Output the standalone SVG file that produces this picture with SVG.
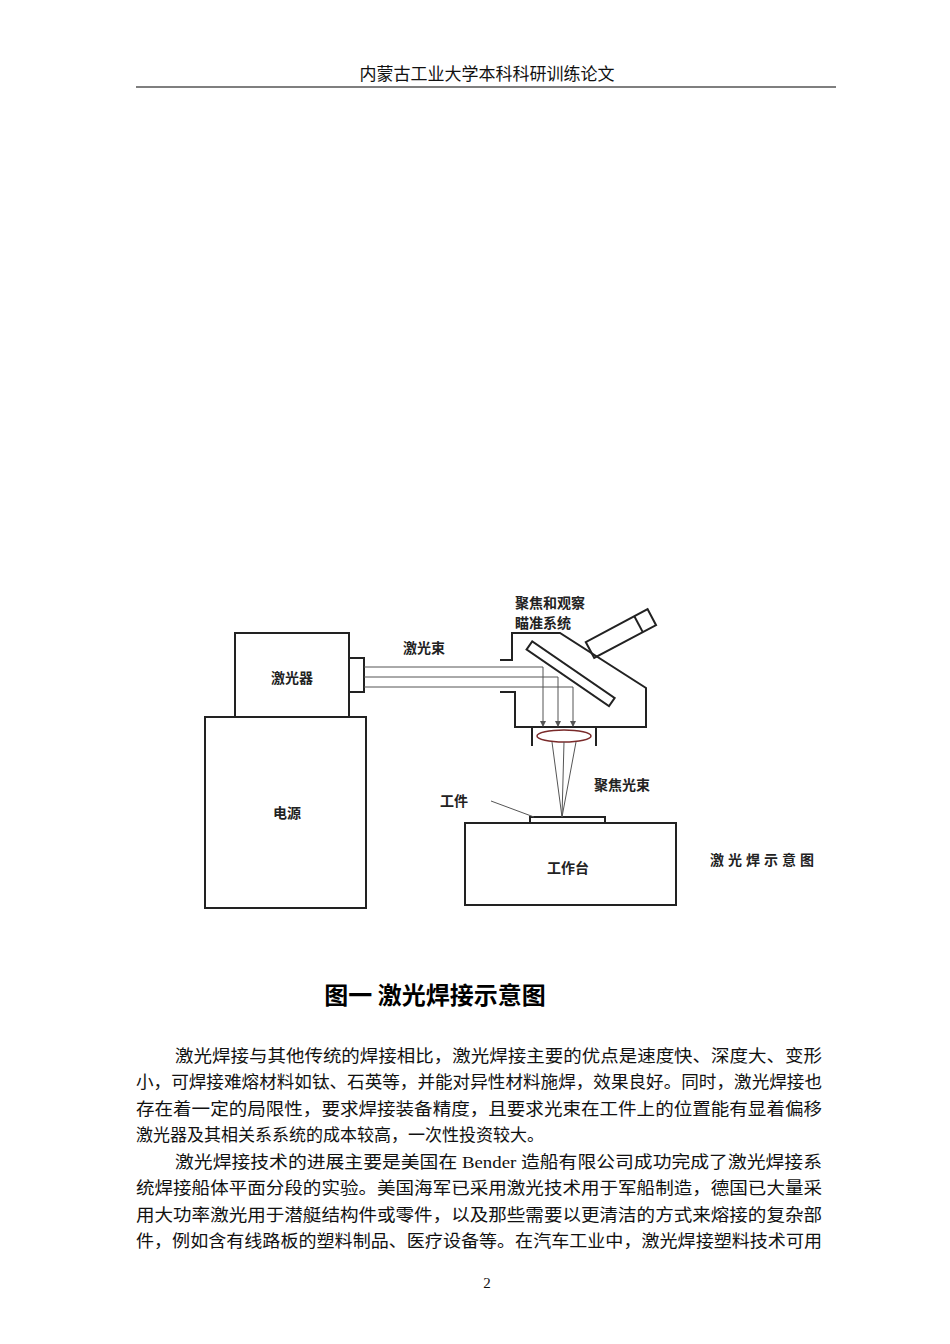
<svg xmlns="http://www.w3.org/2000/svg" width="950" height="1344" viewBox="0 0 950 1344">
<style>
.t{font-family:"Liberation Serif","Noto Sans CJK SC",serif;font-size:17px;fill:#111}
.d{font-family:"Noto Sans CJK SC",sans-serif;font-size:14px;font-weight:bold;fill:#222}
.s{fill:none;stroke:#222;stroke-width:2}
.b{fill:none;stroke:#555;stroke-width:1}
</style>
<defs><marker id="a" markerWidth="6" markerHeight="6" refX="5" refY="3" orient="auto"><path d="M0,0L6,3L0,6z" fill="#555"/></marker></defs>
<rect width="950" height="1344" fill="#fff"/>
<text class="t" x="487" y="80" text-anchor="middle" font-size="15">内蒙古工业大学本科科研训练论文</text>
<line x1="136" y1="87" x2="836" y2="87" stroke="#000" stroke-width="1.2"/>
<g id="laser"><rect class="s" x="235" y="633" width="114" height="84"/><rect class="s" x="349" y="658" width="15" height="34"/><text class="d" x="292" y="683" text-anchor="middle">激光器</text></g>
<g id="power"><rect class="s" x="205" y="717" width="161" height="191"/><text class="d" x="287" y="818" text-anchor="middle">电源</text></g>
<g id="head">
<polyline class="s" points="500,660 512,660 512,633 560,633 646,688 646,727 515,727 515,692 500,692"/>
<rect class="s" x="-8" y="-5" width="100" height="10" transform="translate(536,650) rotate(34.5)"/>
<g transform="translate(590,650) rotate(-28)"><rect class="s" x="0" y="-9" width="70" height="18"/><line class="s" x1="55" y1="-9" x2="55" y2="9"/></g>
<polyline class="s" points="532,746 532,727 596,727 596,746"/>
<ellipse cx="564" cy="736" rx="27" ry="6" fill="none" stroke="#7a2a2a" stroke-width="1.5"/>
<text class="d" x="515" y="608">聚焦和观察</text><text class="d" x="515" y="628">瞄准系统</text></g>
<g id="table"><rect class="s" x="465" y="823" width="211" height="82"/><rect class="s" x="530" y="817" width="75" height="6"/><text class="d" x="568" y="873" text-anchor="middle">工作台</text></g>
<g id="labels"><text class="d" x="403" y="653">激光束</text><text class="d" x="594" y="790">聚焦光束</text><text class="d" x="454" y="806" text-anchor="middle">工件</text><text class="d" x="710" y="865" letter-spacing="4">激光焊示意图</text></g>
<g id="connectors">
<polyline class="b" points="364,667 543,667 543,726" marker-end="url(#a)"/>
<polyline class="b" points="364,677 558,677 558,726" marker-end="url(#a)"/>
<polyline class="b" points="364,687 573,687 573,726" marker-end="url(#a)"/>
<line class="b" x1="552" y1="742" x2="562" y2="817"/><line class="b" x1="564" y1="742" x2="562" y2="817"/><line class="b" x1="576" y1="742" x2="562" y2="817"/>
<line class="b" x1="491" y1="801" x2="534" y2="817" stroke="#222" stroke-width="1.5"/>
</g>
<text x="435" y="1004" text-anchor="middle" font-family="Noto Sans CJK SC,sans-serif" font-size="24" font-weight="bold">图一  激光焊接示意图</text>
<g class="t">
<text x="175" y="1062" textLength="647" lengthAdjust="spacingAndGlyphs">激光焊接与其他传统的焊接相比，激光焊接主要的优点是速度快、深度大、变形</text>
<text x="136" y="1088" textLength="686" lengthAdjust="spacingAndGlyphs">小，可焊接难熔材料如钛、石英等，并能对异性材料施焊，效果良好。同时，激光焊接也</text>
<text x="136" y="1115" textLength="686" lengthAdjust="spacingAndGlyphs">存在着一定的局限性，要求焊接装备精度，且要求光束在工件上的位置能有显着偏移</text>
<text x="136" y="1141">激光器及其相关系系统的成本较高，一次性投资较大。</text>
<text x="175" y="1168" textLength="647" lengthAdjust="spacingAndGlyphs">激光焊接技术的进展主要是美国在 Bender 造船有限公司成功完成了激光焊接系</text>
<text x="136" y="1194" textLength="686" lengthAdjust="spacingAndGlyphs">统焊接船体平面分段的实验。美国海军已采用激光技术用于军船制造，德国已大量采</text>
<text x="136" y="1221" textLength="686" lengthAdjust="spacingAndGlyphs">用大功率激光用于潜艇结构件或零件，以及那些需要以更清洁的方式来熔接的复杂部</text>
<text x="136" y="1247" textLength="686" lengthAdjust="spacingAndGlyphs">件，例如含有线路板的塑料制品、医疗设备等。在汽车工业中，激光焊接塑料技术可用</text>
<text x="487" y="1288" text-anchor="middle" font-size="15">2</text>
</g>
</svg>
